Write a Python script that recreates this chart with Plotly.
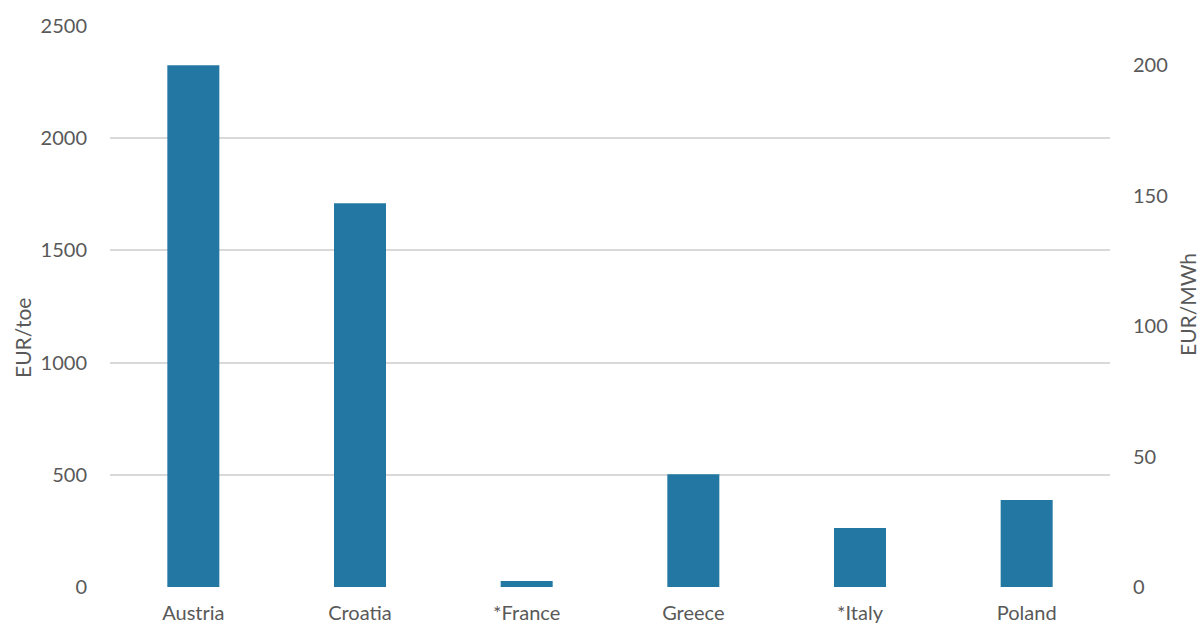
import plotly.graph_objects as go

countries = ["Austria", "Croatia", "*France", "Greece", "*Italy", "Poland"]
eur_per_toe = [2325, 1710, 27, 503, 263, 388]
left_ticks = [0, 500, 1000, 1500, 2000, 2500]
right_ticks = [0, 50, 100, 150, 200]
TOE_TO_MWH = 11.63

font_family = "Lato, 'Open Sans', sans-serif"
text_color = "#595959"

fig = go.Figure()
fig.add_trace(go.Bar(x=countries, y=eur_per_toe, marker=dict(color="#2378A3", line=dict(width=0)),
                     yaxis="y", showlegend=False))
# invisible trace for secondary axis
fig.add_trace(go.Scatter(x=countries, y=[v / TOE_TO_MWH for v in eur_per_toe], yaxis="y2",
                         mode="markers", marker=dict(opacity=0), showlegend=False, hoverinfo="skip"))

fig.update_layout(
    width=1201, height=628,
    margin=dict(l=110, r=91, t=26, b=41, autoexpand=False),
    paper_bgcolor="white", plot_bgcolor="white",
    font=dict(family=font_family, size=20, color=text_color),
    bargap=0.688,
    xaxis=dict(showgrid=False, showline=False, ticks="", tickfont=dict(size=20, color=text_color),
               ticklabelstandoff=12, automargin=False),
    yaxis=dict(range=[0, 2500], tickvals=left_ticks, showgrid=True, gridcolor="#d9d9d9", gridwidth=1.5,
               zeroline=False, showline=False, ticks="", ticklabelstandoff=22, automargin=False,
               tickfont=dict(size=20, color=text_color)),
    yaxis2=dict(range=[0, 2500 / TOE_TO_MWH], tickvals=right_ticks, overlaying="y", side="right",
                showgrid=False, zeroline=False, showline=False, ticks="", ticklabelstandoff=22,
                automargin=False, tickfont=dict(size=20, color=text_color)),
    annotations=[
        dict(text="EUR/toe", x=22, y=628 - 338, xref="paper", yref="paper", showarrow=False,
             textangle=-90, font=dict(size=21, color=text_color), xanchor="center", yanchor="middle"),
        dict(text="EUR/MWh", x=1187, y=628 - 305, xref="paper", yref="paper", showarrow=False,
             textangle=-90, font=dict(size=21, color=text_color), xanchor="center", yanchor="middle"),
    ],
)

# convert pixel positions of annotations to paper coordinates
pw, ph = 1201 - 110 - 91, 628 - 26 - 41
for a in fig.layout.annotations:
    a.x = (a.x - 110) / pw
    a.y = (a.y - 41) / ph

fig.write_html("out.html")
